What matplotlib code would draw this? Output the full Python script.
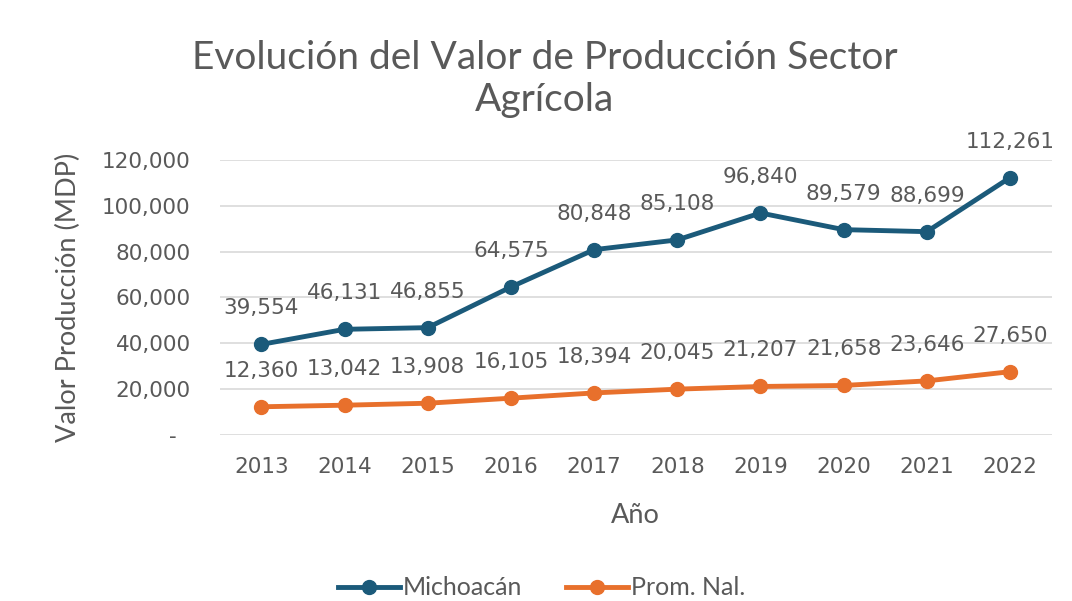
import matplotlib
matplotlib.use("Agg")
import matplotlib.pyplot as plt
from matplotlib.ticker import FuncFormatter

years = ["2013", "2014", "2015", "2016", "2017", "2018", "2019", "2020", "2021", "2022"]
michoacan = [39554, 46131, 46855, 64575, 80848, 85108, 96840, 89579, 88699, 112261]
prom_nal = [12360, 13042, 13908, 16105, 18394, 20045, 21207, 21658, 23646, 27650]

BLUE = "#1b5a7a"
ORANGE = "#e8702c"
TXT = "#595959"
GRID = "#d9d9d9"
NUMFONT = "DejaVu Sans"
NUMSIZE = 15.5

fig = plt.figure(figsize=(10.72, 6.01), dpi=100)
ax = fig.add_axes([0.205, 0.276, 0.776, 0.458])

x = list(range(len(years)))
ax.plot(x, michoacan, color=BLUE, lw=3.5, marker="o", ms=10, label="Michoacán", zorder=3)
ax.plot(x, prom_nal, color=ORANGE, lw=3.5, marker="o", ms=10, label="Prom. Nal.", zorder=3)

for series in (michoacan, prom_nal):
    for xi, v in zip(x, series):
        ax.annotate(f"{v:,}", (xi, v), xytext=(0, 26), textcoords="offset points",
                    ha="center", va="center", fontsize=NUMSIZE, color=TXT, family=NUMFONT)

ax.set_xlim(-0.5, len(years) - 0.5)
ax.set_ylim(0, 120000)
ax.set_yticks(range(0, 120001, 20000))
ax.yaxis.set_major_formatter(FuncFormatter(lambda v, p: "-  " if v == 0 else f"{int(v):,}"))
ax.set_xticks(x)
ax.set_xticklabels(years)
ax.grid(axis="y", color=GRID, lw=1.2)
ax.set_axisbelow(True)
for s in ax.spines.values():
    s.set_visible(False)
ax.tick_params(length=0, labelsize=NUMSIZE, labelcolor=TXT)
ax.tick_params(axis="x", pad=16)
ax.tick_params(axis="y", pad=21)
for lab in ax.get_xticklabels() + ax.get_yticklabels():
    lab.set_family(NUMFONT)

ax.set_ylabel("Valor Producción (MDP)", fontsize=19.5, color=TXT, family="Lato")
ax.yaxis.set_label_coords(-0.167, 0.5)
ax.set_xlabel("Año", fontsize=19.5, color=TXT, family="Lato")
ax.xaxis.set_label_coords(0.5, -0.245)

fig.text(0.508, 0.868, "Evolución del Valor de Producción Sector\nAgrícola", ha="center", va="center",
         fontsize=28, color=TXT, family="Lato", linespacing=1.2)

fig.legend(loc="center", bbox_to_anchor=(0.505, 0.022), ncol=2, frameon=False,
           prop={"family": "Lato", "size": 18}, labelcolor=TXT, handlelength=2.5,
           columnspacing=1.75, handletextpad=0.1)

fig.savefig("out.png", dpi=100)
